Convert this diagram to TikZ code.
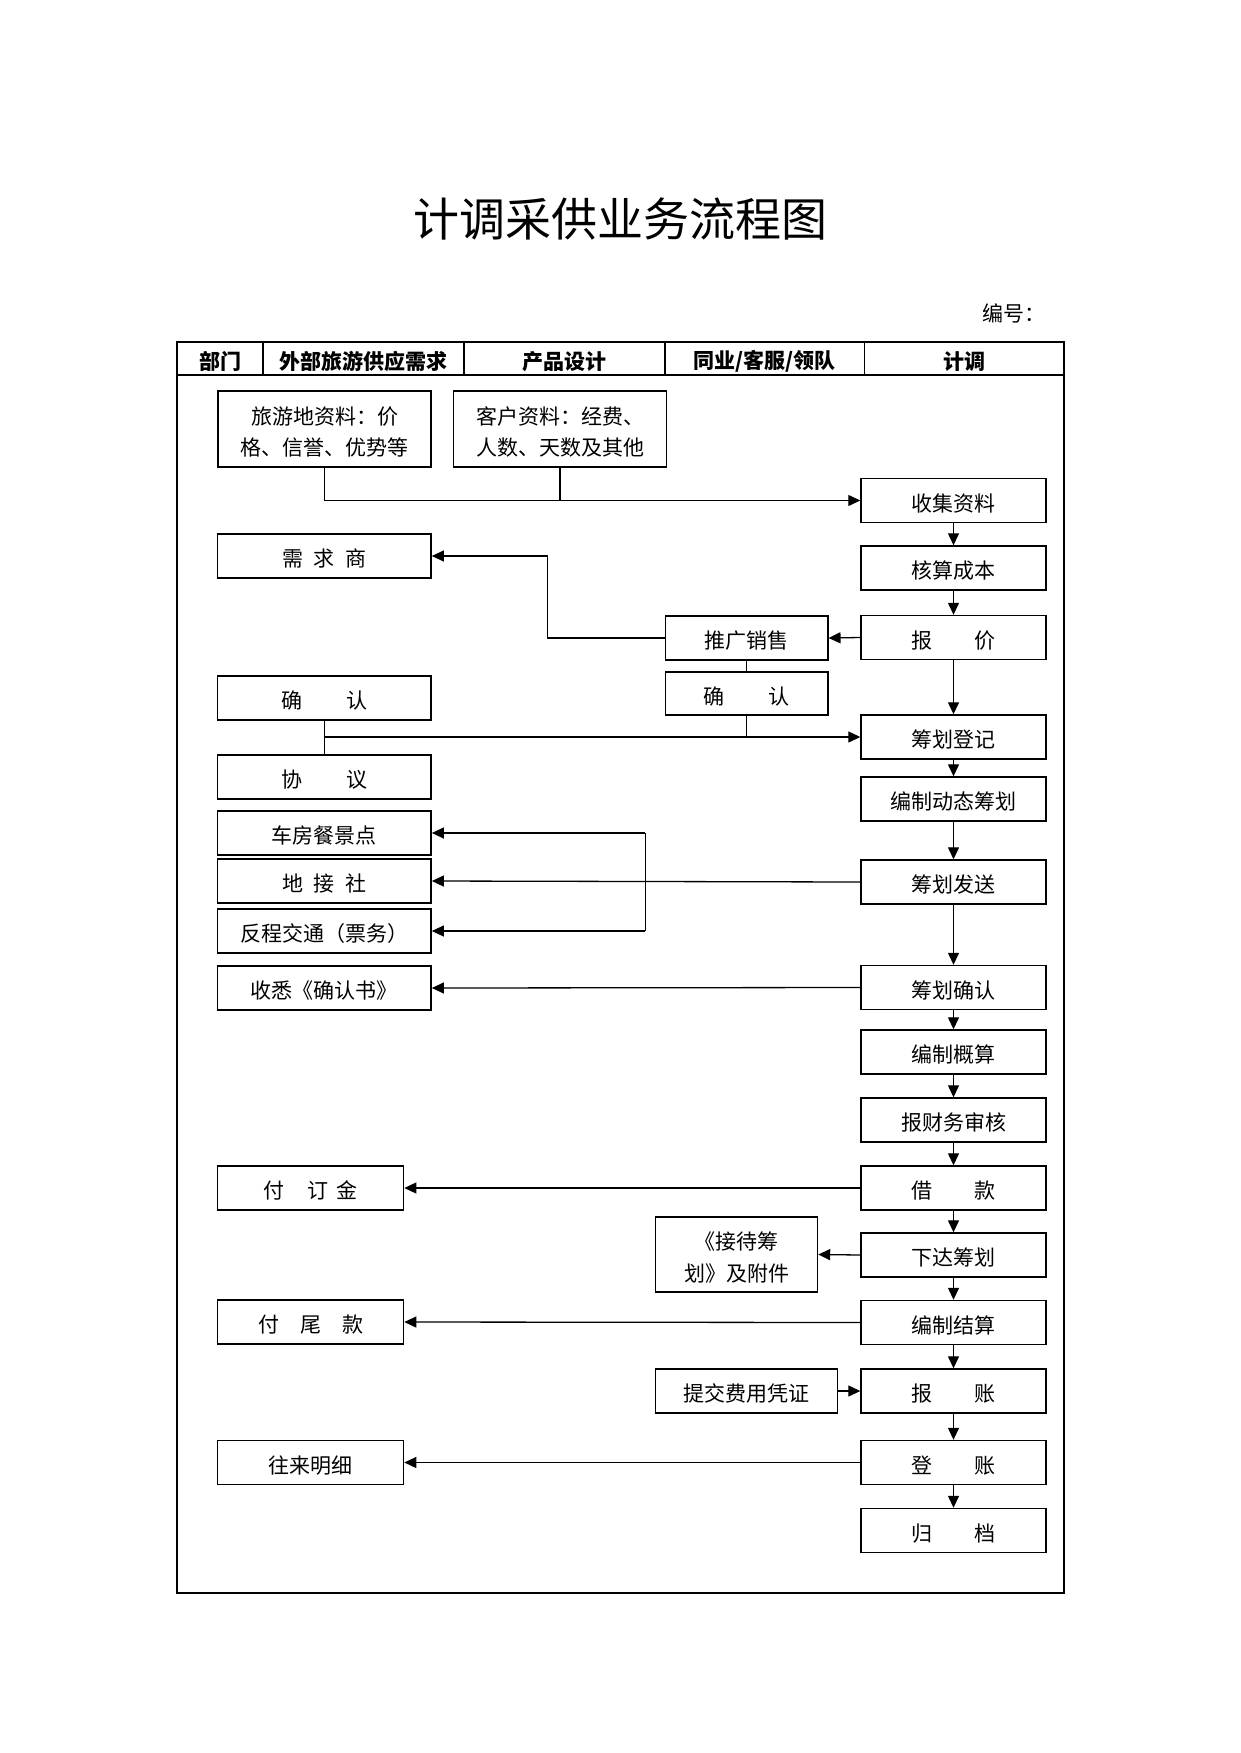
\documentclass[tikz,border=0pt]{standalone}
\usepackage{fontspec}
\newfontfamily\cjk{Noto Sans CJK SC}
\usetikzlibrary{arrows.meta}
\newcommand\bxstrut{\rule[-3pt]{0pt}{27pt}}
\tikzset{
  bx/.style={draw, line width=1.4pt, inner sep=0pt, align=center,
    font=\cjk\fontsize{21}{30}\selectfont,
    execute at begin node=\bxstrut},
  bx2/.style={draw, line width=1.4pt, inner sep=0pt, align=center,
    font=\cjk\fontsize{21}{31.5}\selectfont,
    text height=55pt, text depth=2pt},
  cl/.style={line width=1.3pt},
  arr/.style={cl, -{Triangle[length=12pt,width=11pt]}},
  jd/.style={bx, minimum width=185pt, minimum height=44pt},
  lc/.style={bx, minimum width=213.5pt, minimum height=44pt},
  ls/.style={bx, minimum width=186pt, minimum height=44pt},
  hd/.style={font=\cjk\bfseries\fontsize{21}{24}\selectfont, inner sep=0pt,
    execute at begin node=\bxstrut},
}
\begin{document}
\begin{tikzpicture}[x=1pt,y=-1pt]
\useasboundingbox (0,0) rectangle (1240,1753);
% title
\node[font=\cjk\fontsize{46}{50}\selectfont] (title) at (620,219) {计调采供业务流程图};
\node[font=\cjk\fontsize{21}{24}\selectfont] (bianhao) at (1014,313) {编号：};
% frame and header
\draw[line width=1.3pt] (177,342) rectangle (1064,1593);
\draw[line width=1.3pt] (177,375) -- (1064,375);
\foreach \xx in {263,464,665,864.5} \draw[line width=1.3pt] (\xx,342) -- (\xx,375);
\node[hd] (h1) at (220,358.5) {部门};
\node[hd] (h2) at (363.5,358.5) {外部旅游供应需求};
\node[hd] (h3) at (564.5,358.5) {产品设计};
\node[hd] (h4) at (764.8,358.5) {同业/客服/领队};
\node[hd] (h5) at (964.3,358.5) {计调};
% source boxes
\node[bx2, minimum width=213pt, minimum height=76pt] (src1) at (324.6,429) {旅游地资料：价\\格、信誉、优势等};
\node[bx2, minimum width=213pt, minimum height=76pt] (src2) at (560.1,429) {客户资料：经费、\\人数、天数及其他};
% left column
\node[lc] (xuqiu) at (324.4,556) {需\hspace{0.5em}求\hspace{0.5em}商};
\node[lc] (queren1) at (324.4,698) {确\hspace{2.1em}认};
\node[lc] (xieyi) at (324.4,777) {协\hspace{2.1em}议};
\node[lc] (chefang) at (324.4,833) {车房餐景点};
\node[lc] (dijie) at (324.4,881) {地\hspace{0.5em}接\hspace{0.5em}社};
\node[lc] (fancheng) at (324.4,931) {反程交通（票务）};
\node[lc] (shouxi) at (324.4,988) {收悉《确认书》};
\node[ls] (dingjin) at (310.6,1188) {付\hspace{1.1em}订\hspace{0.4em}金};
\node[ls] (weikuan) at (310.6,1322) {付\hspace{1em}尾\hspace{1em}款};
\node[ls] (wanglai) at (310.6,1462.5) {往来明细};
% middle
\node[bx, minimum width=162.5pt, minimum height=44pt] (tuiguang) at (746.6,638) {推广销售};
\node[bx, minimum width=162.5pt, minimum height=43pt] (queren2) at (746.6,693.5) {确\hspace{2.1em}认};
\node[bx2, minimum width=162pt, minimum height=75pt] (jiedai) at (736.5,1254.5) {《接待筹\\划》及附件};
\node[bx, minimum width=182pt, minimum height=44pt] (tijiao) at (746.6,1391) {提交费用凭证};
% jidiao column
\node[jd] (shouji) at (953.5,500.5) {收集资料};
\node[jd] (hesuan) at (953.5,568) {核算成本};
\node[jd] (baojia) at (953.5,637.5) {报\hspace{2em}价};
\node[jd] (dengji) at (953.5,737) {筹划登记};
\node[jd] (dongtai) at (953.5,799) {编制动态筹划};
\node[jd] (fasong) at (953.5,882) {筹划发送};
\node[jd] (chqueren) at (953.5,987.5) {筹划确认};
\node[jd] (gaisuan) at (953.5,1052) {编制概算};
\node[jd] (shenhe) at (953.5,1120) {报财务审核};
\node[jd] (jiekuan) at (953.5,1188) {借\hspace{2em}款};
\node[jd] (xiada) at (953.5,1255) {下达筹划};
\node[jd] (jiesuan) at (953.5,1322.5) {编制结算};
\node[jd] (baozhang) at (953.5,1391) {报\hspace{2em}账};
\node[jd] (dengzhang) at (953.5,1462.5) {登\hspace{2em}账};
\node[jd] (guidang) at (953.5,1530.5) {归\hspace{2em}档};
% vertical chain
\foreach \a/\b in {shouji/hesuan,hesuan/baojia,baojia/dengji,dengji/dongtai,dongtai/fasong,fasong/chqueren,chqueren/gaisuan,gaisuan/shenhe,shenhe/jiekuan,jiekuan/xiada,xiada/jiesuan,jiesuan/baozhang,baozhang/dengzhang,dengzhang/guidang}
  \draw[arr] (\a.south) -- (\b.north);
% sources to shouji
\draw[arr] (src1.south) |- (shouji.west);
\draw[cl] (src2.south) -- (src2.south |- shouji.west);
% baojia -> tuiguang -> xuqiu
\draw[arr] (baojia.west) -- (tuiguang.east);
\coordinate (c1) at (547.7,638);
\draw[arr] (tuiguang.west) -- (c1) |- (xuqiu.east);
\draw[cl] (tuiguang.south) -- (queren2.north);
% confirmations to dengji
\draw[cl] (queren1.south) -- (xieyi.north);
\draw[arr] (queren1.south |- dengji.west) -- (dengji.west);
\draw[cl] (queren2.south) -- (queren2.south |- dengji.west);
% fasong to suppliers
\draw[arr] (fasong.west) -- (dijie.east);
\coordinate (b1) at (645.3,833);
\coordinate (b2) at (645.3,931);
\draw[cl] (b1) -- (b2);
\draw[arr] (b1) -- (chefang.east);
\draw[arr] (b2) -- (fancheng.east);
% others
\draw[arr] (chqueren.west) -- (shouxi.east);
\draw[arr] (jiekuan.west) -- (dingjin.east);
\draw[arr] (xiada.west) -- (jiedai.east);
\draw[arr] (jiesuan.west) -- (weikuan.east);
\draw[arr] (tijiao.east) -- (baozhang.west);
\draw[arr] (dengzhang.west) -- (wanglai.east);
\end{tikzpicture}
\end{document}
